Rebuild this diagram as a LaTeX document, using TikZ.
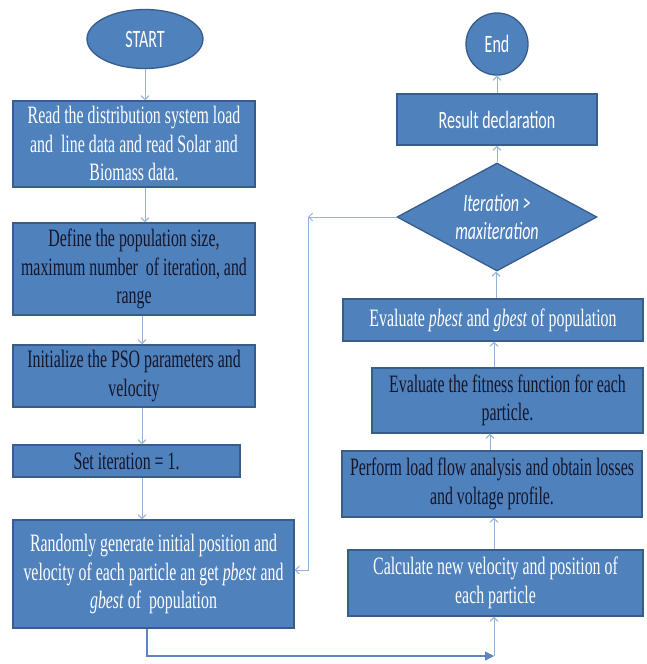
\documentclass[tikz,border=0pt]{standalone}
\usepackage{fontspec}
\setmainfont{Liberation Serif}[FakeStretch=0.635]
\newfontfamily\calfont{Carlito}[FakeStretch=0.64]
\usetikzlibrary{shapes.geometric,arrows.meta}
\definecolor{boxfill}{HTML}{4F81BD}
\definecolor{boxline}{HTML}{385D8A}
\definecolor{connc}{HTML}{95B3D7}
\definecolor{darktext}{HTML}{15152A}
\definecolor{botline}{HTML}{5B86C0}
\tikzset{
  blk/.style={draw=boxline,line width=1.3pt,fill=boxfill,inner sep=0pt,align=center,
    font=\fontsize{25}{28.5}\selectfont},
  wt/.style={text=white},
  dk/.style={text=darktext},
  caltxt/.style={font=\calfont\fontsize{25}{28.5}\selectfont,text=white},
  conn/.style={draw=connc,line width=1pt,-{Straight Barb[length=4pt,width=8pt]}},
  botconn/.style={draw=botline,line width=1.2pt},
}
\begin{document}
\begin{tikzpicture}[x=1pt,y=-1pt]
\fill[white] (0,0) rectangle (646,664);
\useasboundingbox (0,0) rectangle (646,664);
% left column
\node[blk,caltxt,ellipse,minimum width=116pt,minimum height=59pt] (start) at (145,39) {START};
\node[blk,wt,minimum width=242pt,minimum height=86pt] (b1) at (134,144)
  {Read the distribution system load\\and\ \ line data and read Solar and\\Biomass data.};
\node[blk,dk,minimum width=242pt,minimum height=92pt] (b2) at (134,269)
  {Define the population size,\\maximum number\ \ of iteration, and\\range};
\node[blk,dk,minimum width=242pt,minimum height=62pt] (b3) at (134,376)
  {Initialize the PSO parameters and\\velocity};
\node[blk,dk,minimum width=227pt,minimum height=32pt] (b4) at (126.5,461)
  {Set iteration = 1.};
\node[blk,wt,minimum width=281pt,minimum height=108pt] (b5) at (153.5,574)
  {Randomly generate initial position and\\velocity of each particle an get \textit{pbest} and\\\textit{gbest} of\ \ population};
% right column
\node[blk,caltxt,circle,minimum size=62pt] (endn) at (497,44) {End};
\node[blk,caltxt,minimum width=200pt,minimum height=51pt] (res) at (497,119.5) {Result declaration};
\node[blk,caltxt,diamond,aspect=1.85,minimum width=200pt,minimum height=108pt] (dec) at (497,217)
  {\itshape Iteration >\\\itshape maxiteration};
\node[blk,wt,minimum width=300pt,minimum height=42pt] (pb) at (493,320)
  {Evaluate \textit{pbest} and \textit{gbest} of population};
\node[blk,dk,minimum width=271pt,minimum height=65pt] (fit) at (507.5,400.5)
  {Evaluate the fitness function for each\\particle.};
\node[blk,dk,minimum width=300pt,minimum height=66pt] (lf) at (492,484)
  {Perform load flow analysis and obtain losses\\and voltage profile.};
\node[blk,wt,minimum width=295pt,minimum height=66pt] (calc) at (495.5,583)
  {Calculate new velocity and position of\\each particle};
% coordinates for loops
\coordinate (lpA) at (308,217);
\coordinate (lpB) at (308,570);
\coordinate (btA) at (147,656);
\coordinate (btB) at (494,656);
% left connectors
\path[conn] (start.south) -- (start.south |- b1.north);
\path[conn] ([xshift=11pt]b1.south) -- ([xshift=11pt]b1.south |- b2.north);
\path[conn] ([xshift=8pt]b2.south) -- ([xshift=8pt]b2.south |- b3.north);
\path[conn] ([xshift=8pt]b3.south) -- ([xshift=8pt]b3.south |- b4.north);
\path[conn] ([xshift=15.5pt]b4.south) -- ([xshift=15.5pt]b4.south |- b5.north);
% right connectors
\path[conn] (res.north) -- (endn.south);
\path[conn] (dec.north) -- (res.south);
\path[conn] ([xshift=3pt]pb.north) -- ([xshift=3pt]pb.north |- dec.south);
\path[conn] ([xshift=-13.5pt]fit.north) -- ([xshift=-13.5pt]fit.north |- pb.south);
\path[conn] ([xshift=-2pt]lf.north) -- ([xshift=-2pt]lf.north |- fit.south);
\path[conn] ([xshift=-1.5pt]calc.north) -- ([xshift=-1.5pt]calc.north |- lf.south);
% loop back
\path[conn] (dec.west) -- (lpA);
\path[conn] (lpA) -- (lpB) -- (lpB -| b5.east);
% bottom
\path[botconn,-{Triangle[length=9pt,width=9pt]}] (b5.south -| btA) -- (btA) -- (btB);
\path[conn] (btB) -- (btB |- calc.south);
\end{tikzpicture}
\end{document}
